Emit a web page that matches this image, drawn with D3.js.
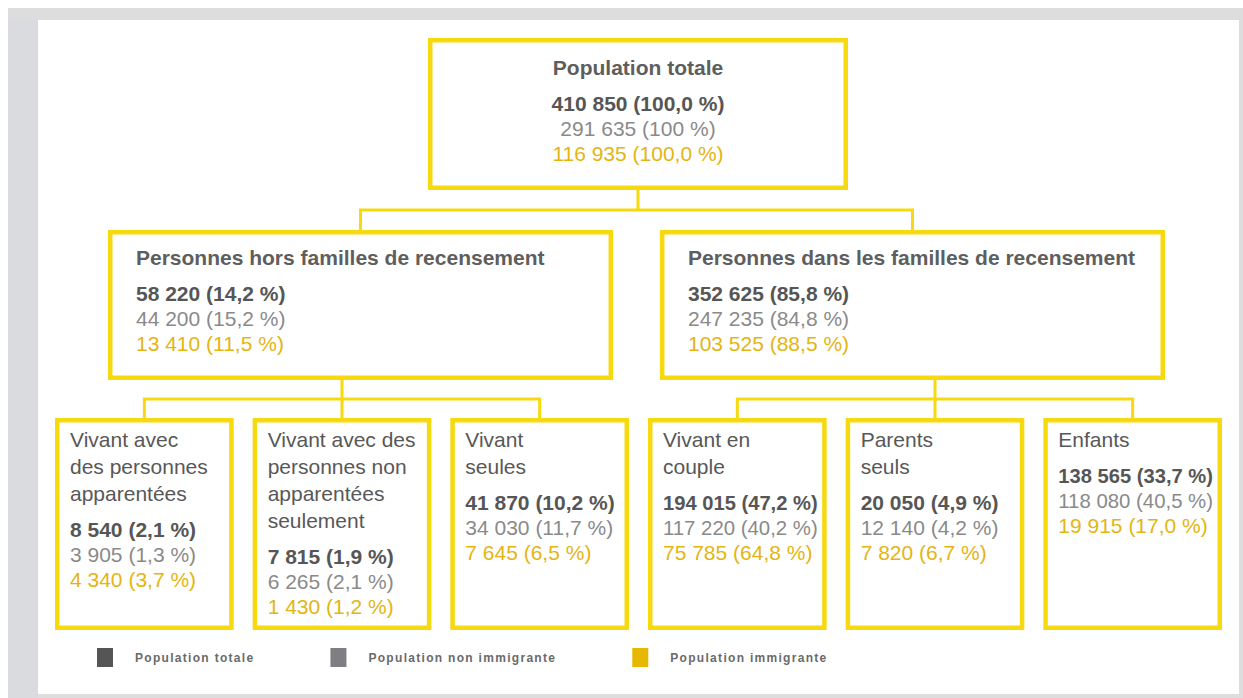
<!DOCTYPE html>
<html><head><meta charset="utf-8">
<script src="https://cdn.jsdelivr.net/npm/d3@7"></script>
<style>
body{margin:0;background:#fff}
svg{display:block}
text{font-family:"Liberation Sans",Arial,Helvetica,sans-serif}
</style>
</head><body>
<svg id="chart" width="1243" height="698"></svg>
<script>
// ---- data ----
const nodeIds      = ["root","hors","dans","app","nonapp","seules","couple","parents","enfants"];
const nodeParents  = ["", "root","root","hors","hors","hors","dans","dans","dans"];
const nodeTitles   = [
  "Population totale",
  "Personnes hors familles de recensement",
  "Personnes dans les familles de recensement",
  "Vivant avec\ndes personnes\napparentées",
  "Vivant avec des\npersonnes non\napparentées\nseulement",
  "Vivant\nseules",
  "Vivant en\ncouple",
  "Parents\nseuls",
  "Enfants"
];
const totalValues  = [410850, 58220, 352625, 8540, 7815, 41870, 194015, 20050, 138565];
const totalPct     = ["100,0","14,2","85,8","2,1","1,9","10,2","47,2","4,9","33,7"];
const nonImmValues = [291635, 44200, 247235, 3905, 6265, 34030, 117220, 12140, 118080];
const nonImmPct    = ["100","15,2","84,8","1,3","2,1","11,7","40,2","4,2","40,5"];
const immValues    = [116935, 13410, 103525, 4340, 1430, 7645, 75785, 7820, 19915];
const immPct       = ["100,0","11,5","88,5","3,7","1,2","6,5","64,8","6,7","17,0"];
const seriesNames  = ["Population totale","Population non immigrante","Population immigrante"];

// ---- style / layout ----
const YELLOW = "#f6d90f";
const seriesText = ["#565656","#8a8a8a","#e4b512"];
const seriesSwatch = ["#555555","#7f7f83","#e6b800"];
const seriesWeight = ["bold","normal","normal"];
const levelY = [[38,190],[230,380],[418,630]];
const levelRange = [[428,848],[108,1165],[55,1222]];
const levelPad = [0, 0.085, 0.096];

const fr = d3.formatLocale({decimal:",", thousands:" ", grouping:[3], currency:["",""]});
const fmt = fr.format(",d");

const svg = d3.select("#chart");

// frame
svg.append("rect").attr("x",8).attr("y",8).attr("width",1235).attr("height",690).attr("fill","#dddddd");
svg.append("rect").attr("x",8).attr("y",20).attr("width",30).attr("height",678).attr("fill","#d9dbde");
svg.append("rect").attr("x",38).attr("y",20).attr("width",1201).attr("height",674).attr("fill","#ffffff");

// hierarchy
const table = nodeIds.map((id,i)=>({id, parentId: nodeParents[i] || null, i}));
const root = d3.stratify().id(d=>d.id).parentId(d=>d.parentId)(table);

[0,1,2].forEach(k=>{
  const nodes = root.descendants().filter(n=>n.depth===k);
  const sc = d3.scaleBand().domain(nodes.map(n=>n.id)).range(levelRange[k]).paddingInner(levelPad[k]);
  nodes.forEach(n=>{
    n.x0 = sc(n.id); n.w = sc.bandwidth(); n.cx = n.x0 + n.w/2;
    n.y0 = levelY[k][0]; n.y1 = levelY[k][1];
  });
});

// connectors
const g = svg.append("g");
root.descendants().filter(n=>n.children).forEach(n=>{
  const ch = n.children;
  const sx = ch.length % 2 ? ch[(ch.length-1)/2].cx : n.cx;
  const ym = (n.y1 + ch[0].y0)/2;
  const p = d3.path();
  p.moveTo(sx, n.y1); p.lineTo(sx, ym);
  p.moveTo(ch[0].cx - 1.5, ym); p.lineTo(ch[ch.length-1].cx + 1.5, ym);
  ch.forEach(c=>{ p.moveTo(c.cx, ym); p.lineTo(c.cx, c.y0); });
  g.append("path").attr("d", p.toString()).attr("fill","none")
    .attr("stroke", YELLOW).attr("stroke-width",3);
});

// boxes
const SW = 4.5;
root.descendants().forEach(n=>{
  svg.append("rect")
    .attr("x", n.x0 + SW/2).attr("y", n.y0 + SW/2)
    .attr("width", n.w - SW).attr("height", n.y1 - n.y0 - SW)
    .attr("fill","#fff").attr("stroke",YELLOW).attr("stroke-width",SW);
});

function fit(sel, maxW){
  const t = sel.node();
  const len = t.getComputedTextLength();
  if (len > maxW) sel.attr("textLength", maxW).attr("lengthAdjust","spacingAndGlyphs");
}

// texts
root.descendants().forEach(n=>{
  const i = n.data.i, k = n.depth;
  const anchor = k===0 ? "middle" : "start";
  const tx = k===0 ? n.cx : n.x0 + (k===1 ? 28 : 15);
  const titleY = n.y0 + (k===0 ? 37 : k===1 ? 35 : 29);
  const maxW = n.w - (k===0 ? 40 : k===1 ? 56 : 24);
  const lines = nodeTitles[i].split("\n");
  lines.forEach((ln,j)=>{
    const t = svg.append("text").attr("x",tx).attr("y",titleY + j*27)
      .attr("text-anchor",anchor).attr("font-size",21)
      .attr("font-weight", k<2 ? "bold" : "normal")
      .attr("fill", k<2 ? "#5e5e5e" : "#585858").text(ln);
    fit(t, maxW);
  });
  const numY = titleY + (lines.length-1)*27 + 36;
  const rows = [
    `${fmt(totalValues[i])} (${totalPct[i]} %)`,
    `${fmt(nonImmValues[i])} (${nonImmPct[i]} %)`,
    `${fmt(immValues[i])} (${immPct[i]} %)`
  ];
  rows.forEach((r,j)=>{
    const t = svg.append("text").attr("x",tx).attr("y",numY + j*25)
      .attr("text-anchor",anchor).attr("font-size",21)
      .attr("font-weight",seriesWeight[j]).attr("fill",seriesText[j]).text(r);
    fit(t, maxW);
  });
});

// legend
let lx = 97;
seriesNames.forEach((s,j)=>{
  svg.append("rect").attr("x",lx).attr("y",648).attr("width",16).attr("height",19)
    .attr("fill",seriesSwatch[j]);
  const t = svg.append("text").attr("x",lx+38).attr("y",662)
    .attr("font-size",12).attr("font-weight","bold").attr("letter-spacing",1.3)
    .attr("fill","#6a6a6a").text(s);
  lx = lx + 38 + t.node().getComputedTextLength() + 76;
});
</script>
</body></html>
